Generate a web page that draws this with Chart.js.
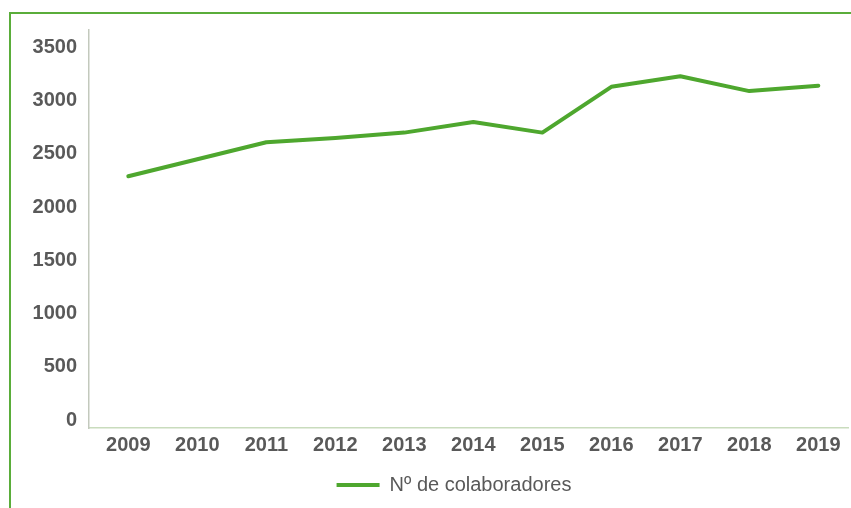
<!DOCTYPE html>
<html>
<head>
<meta charset="utf-8">
<script src="https://cdn.jsdelivr.net/npm/chart.js@4/dist/chart.umd.min.js"></script>
<style>
  html, body { margin: 0; padding: 0; background: #fff; }
  #wrap { position: relative; width: 851px; height: 508px; overflow: hidden; }
  #frame {
    position: absolute; left: 9px; top: 12px; width: 900px; height: 600px;
    border-top: 2px solid #5aad3a; border-left: 2px solid #5aad3a;
  }
  #box { position: absolute; left: 0; top: 0; width: 851px; height: 508px; }
</style>
</head>
<body>
<div id="wrap">
  <div id="frame"></div>
  <div id="box"><canvas id="chart"></canvas></div>
</div>
<script>
// data
const years = ["2009", "2010", "2011", "2012", "2013", "2014", "2015", "2016", "2017", "2018", "2019"];
const colaboradores = [2290, 2450, 2610, 2650, 2700, 2800, 2700, 3130, 3230, 3090, 3140];
const yTicks = [0, 500, 1000, 1500, 2000, 2500, 3000, 3500];

const GREEN = "#4ea72e";
const TEXT = "#595959";
const FONT = "'Liberation Sans', Arial, sans-serif";

// legend sits a bit right of the canvas centre in the original
const legendShift = {
  id: "legendShift",
  afterLayout(chart) {
    const lg = chart.legend;
    if (!lg) return;
    lg.left += 30;
    lg.right += 30;
  },
};

new Chart(document.getElementById("chart"), {
  type: "line",
  data: {
    labels: years,
    datasets: [{
      label: "Nº de colaboradores",
      data: colaboradores,
      borderColor: GREEN,
      backgroundColor: GREEN,
      borderWidth: 4,
      tension: 0,
      pointRadius: 0,
      borderCapStyle: "round",
      borderJoinStyle: "round",
      fill: false,
    }],
  },
  options: {
    responsive: true,
    maintainAspectRatio: false,
    animation: false,
    layout: { padding: { left: 0, right: 3, top: 30, bottom: 3 } },
    plugins: {
      tooltip: { enabled: false },
      legend: {
        position: "bottom",
        labels: {
          usePointStyle: true,
          pointStyle: "line",
          pointStyleWidth: 43,
          padding: 10,
          color: TEXT,
          font: { family: FONT, size: 20 },
        },
      },
    },
    scales: {
      x: {
        offset: true,
        grid: { display: false, drawTicks: false },
        border: { display: true, color: "#c9dcbd", width: 1.5 },
        ticks: {
          color: TEXT,
          padding: 5,
          maxRotation: 0,
          font: { family: FONT, size: 20, weight: "bold" },
        },
        afterFit: (scale) => {
          scale.height = 37;
          // categories sit slightly right of the band centres in the original
          scale._startValue -= 0.07;
        },
      },
      y: {
        min: -75,
        max: 3664,
        grid: { display: false, drawTicks: false },
        border: { display: true, color: "#c3c9bd", width: 1.5 },
        ticks: {
          color: TEXT,
          padding: 12,
          font: { family: FONT, size: 20, weight: "bold" },
          callback: (v) => String(v),
        },
        afterBuildTicks: (scale) => { scale.ticks = yTicks.map((v) => ({ value: v })); },
        afterFit: (scale) => { scale.width = 89; },
      },
    },
  },
  plugins: [legendShift],
});
</script>
</body>
</html>
